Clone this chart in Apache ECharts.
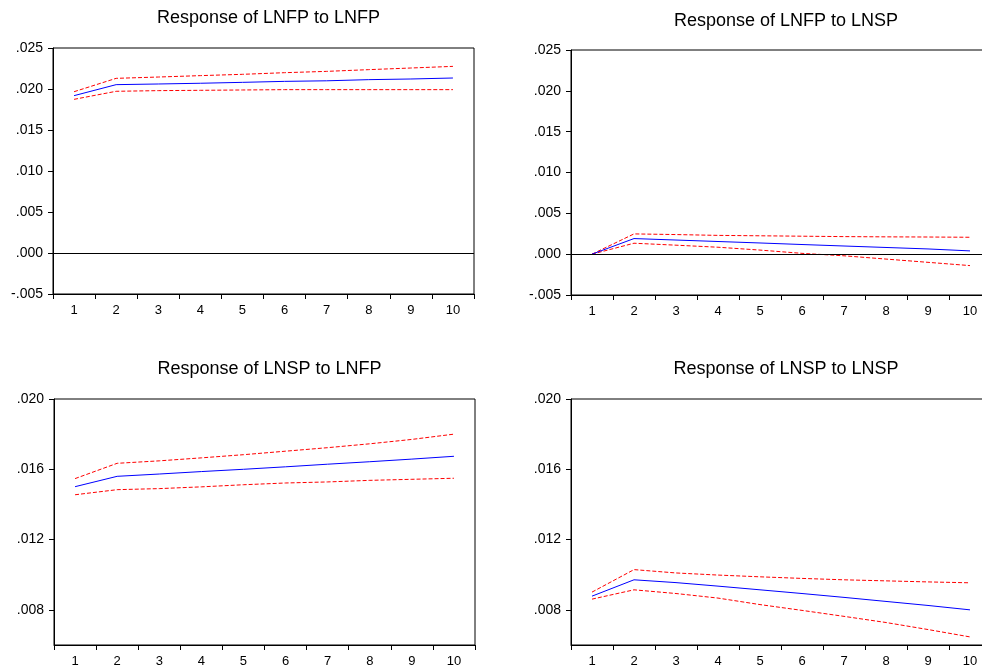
<!DOCTYPE html>
<html>
<head>
<meta charset="utf-8">
<script src="https://cdn.jsdelivr.net/npm/echarts@6/dist/echarts.min.js"></script>
<style>html,body{margin:0;padding:0;background:#fff}#c{width:982px;height:670px}</style>
</head>
<body>
<div id="c"></div>
<script>
var periods = ['1','2','3','4','5','6','7','8','9','10'];
var titles = ['Response of LNFP to LNFP','Response of LNFP to LNSP','Response of LNSP to LNFP','Response of LNSP to LNSP'];

var fpfpMid   = [0.01919,0.02053,0.02061,0.02070,0.02081,0.02093,0.02100,0.02114,0.02122,0.02134];
var fpfpUpper = [0.01967,0.02130,0.02146,0.02163,0.02179,0.02199,0.02215,0.02236,0.02256,0.02276];
var fpfpLower = [0.01874,0.01972,0.01980,0.01984,0.01988,0.01992,0.01992,0.01992,0.01992,0.01992];

var fpspMid   = [0.00000,0.00191,0.00173,0.00155,0.00137,0.00118,0.00100,0.00082,0.00064,0.00040];
var fpspUpper = [0.00000,0.00248,0.00240,0.00230,0.00225,0.00220,0.00215,0.00212,0.00210,0.00207];
var fpspLower = [0.00000,0.00134,0.00110,0.00085,0.00050,0.00010,-0.00020,-0.00060,-0.00100,-0.00140];

var spfpMid   = [0.01501,0.01560,0.01573,0.01587,0.01600,0.01614,0.01629,0.01643,0.01658,0.01674];
var spfpUpper = [0.01547,0.01634,0.01648,0.01665,0.01683,0.01703,0.01723,0.01745,0.01770,0.01800];
var spfpLower = [0.01455,0.01484,0.01490,0.01500,0.01512,0.01522,0.01528,0.01537,0.01543,0.01549];

var spspMid   = [0.00878,0.00971,0.00955,0.00935,0.00914,0.00893,0.00871,0.00848,0.00825,0.00800];
var spspUpper = [0.00901,0.01029,0.01010,0.00998,0.00988,0.00979,0.00971,0.00965,0.00959,0.00954];
var spspLower = [0.00861,0.00914,0.00893,0.00867,0.00830,0.00797,0.00763,0.00728,0.00688,0.00646];

var topTicks = [-0.005,0.000,0.005,0.010,0.015,0.020,0.025];
var bottomTicks = [0.008,0.012,0.016,0.020];

var panels = [
  {mid: fpfpMid, up: fpfpUpper, lo: fpfpLower, zero: true},
  {mid: fpspMid, up: fpspUpper, lo: fpspLower, zero: true},
  {mid: spfpMid, up: spfpUpper, lo: spfpLower, zero: false},
  {mid: spspMid, up: spspUpper, lo: spspLower, zero: false}
];

var grids = [
  {left: 53, top: 48, width: 421, height: 246},
  {left: 571, top: 50, width: 420, height: 245},
  {left: 54, top: 399, width: 421, height: 246},
  {left: 571, top: 399, width: 420, height: 246}
];
var titleTops = [4, 7, 355, 355];

function fmt(v) {
  var s = Math.abs(v).toFixed(3).replace(/^0/, '');
  return (v < -1e-9 ? '-' : '') + s;
}

var FONT = 'Liberation Sans';
var option = {
  animation: false,
  backgroundColor: '#fff',
  title: titles.map(function (t, i) {
    return {
      text: t,
      left: grids[i].left + grids[i].width / 2,
      top: titleTops[i],
      textAlign: 'center',
      textStyle: {fontFamily: FONT, fontSize: 18, fontWeight: 'normal', color: '#000'}
    };
  }),
  grid: grids.map(function (g) {
    return {left: g.left, top: g.top, width: g.width, height: g.height,
      outerBoundsMode: 'none', containLabel: false,
      show: true, borderColor: '#000', borderWidth: 1, backgroundColor: 'transparent'};
  }),
  xAxis: grids.map(function (g, i) {
    return {
      type: 'category', gridIndex: i, data: periods, boundaryGap: true,
      axisLine: {onZero: false, lineStyle: {color: '#000', width: 1}},
      axisTick: {show: true, interval: 0, length: 5, lineStyle: {color: '#000'}},
      axisLabel: {interval: 0, margin: 10, color: '#000', fontFamily: FONT, fontSize: 13}
    };
  }),
  yAxis: grids.map(function (g, i) {
    var top = i < 2;
    var ax = {
      type: 'value', gridIndex: i,
      axisLine: {show: true, onZero: false, lineStyle: {color: '#000', width: 1}},
      splitLine: {show: false},
      axisLabel: {margin: 10, color: '#000', fontFamily: FONT, fontSize: 14, formatter: fmt},
      axisTick: {show: true, length: 5, lineStyle: {color: '#000'}}
    };
    if (top) {
      ax.min = topTicks[0]; ax.max = topTicks[topTicks.length - 1]; ax.interval = 0.005;
    } else {
      ax.min = 0.006; ax.max = 0.020;
      ax.axisLabel.customValues = bottomTicks;
      ax.axisTick.customValues = bottomTicks;
    }
    return ax;
  }),
  series: []
};

panels.forEach(function (p, i) {
  option.series.push({
    type: 'line', xAxisIndex: i, yAxisIndex: i, data: p.up, symbol: 'none', silent: true,
    lineStyle: {color: '#ff0000', width: 1, type: [4, 2]}
  });
  option.series.push({
    type: 'line', xAxisIndex: i, yAxisIndex: i, data: p.lo, symbol: 'none', silent: true,
    lineStyle: {color: '#ff0000', width: 1, type: [4, 2]}
  });
  var mid = {
    type: 'line', xAxisIndex: i, yAxisIndex: i, data: p.mid, symbol: 'none', silent: true,
    lineStyle: {color: '#0000ff', width: 1, type: 'solid'}
  };
  if (p.zero) {
    mid.markLine = {
      silent: true, symbol: 'none', label: {show: false},
      lineStyle: {color: '#000', width: 1, type: 'solid'},
      data: [{yAxis: 0}]
    };
  }
  option.series.push(mid);
});

var chart = echarts.init(document.getElementById('c'), null, {renderer: 'canvas'});
chart.setOption(option);
</script>
</body>
</html>
